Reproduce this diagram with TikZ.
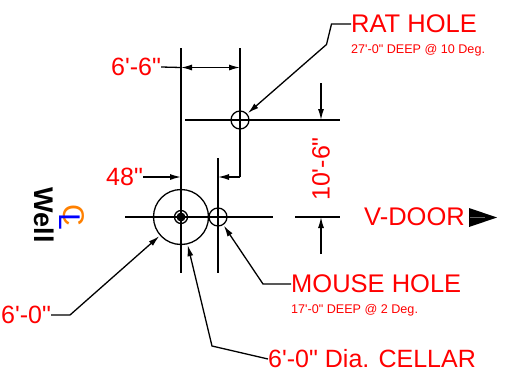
\documentclass[tikz,border=0pt]{standalone}
\usepackage{fontspec}
\newfontfamily\cadfont{Liberation Sans}
\usetikzlibrary{arrows.meta}
\definecolor{clorange}{RGB}{255,128,0}
\tikzstyle{hole} = [draw, circle, inner sep=0pt, line width=1.3pt, outer sep=1.5pt]
\tikzstyle{label} = [red, inner sep=0pt, anchor=west]
\tikzstyle{bigtext} = [label, font=\cadfont\fontsize{25.5}{25.5}\selectfont]
\tikzstyle{midtext} = [label, font=\cadfont\fontsize{25}{25}\selectfont]
\tikzstyle{smalltext} = [label, font=\cadfont\fontsize{12.6}{13}\selectfont]
\tikzstyle{centerline} = [line width=1.3pt]
\tikzstyle{leader} = [line width=1.3pt, -{Latex[length=11pt,width=6pt]}]

\begin{document}
\begin{tikzpicture}[x=1pt, y=-1pt, >={Latex[length=11pt,width=6pt]}]
        \useasboundingbox (0,0) rectangle (507,381);

        % Holes
        \node (cellar) [hole, minimum size=55pt] at (181,217) {};
        \node (well) [hole, minimum size=13pt] at (181,217) {};
        \node (mouse) [hole, minimum size=18pt] at (218,217) {};
        \node (rat) [hole, minimum size=18pt] at (240,120) {};
        \fill (well.center) circle (4.5pt);

        % Centre line ends
        \coordinate (welltop) at (181,48);
        \coordinate (wellbottom) at (181,273);
        \coordinate (rattop) at (240,48);
        \coordinate (ratbottom) at (240,177);
        \coordinate (mousetop) at (218,158);
        \coordinate (mousebottom) at (218,273);
        \coordinate (wellleft) at (125,217);
        \coordinate (wellright) at (273,217);
        \coordinate (ratleft) at (185,120);
        \coordinate (ratright) at (340,120);
        \coordinate (doorleft) at (295,217);
        \coordinate (doorright) at (340,217);

        % Centre lines
        \draw [centerline] (welltop) -- (wellbottom);
        \draw [centerline] (rattop) -- (ratbottom);
        \draw [centerline] (mousetop) -- (mousebottom);
        \draw [centerline] (wellleft) -- (wellright);
        \draw [centerline] (ratleft) -- (ratright);
        \draw [centerline] (doorleft) -- (doorright);

        % Labels
        \node (rattext) [bigtext] at (351,24) {RAT HOLE};
        \node (ratdeep) [smalltext] at (351,50) {27'-0" DEEP @ 10 Deg.};
        \node (mousetext) [bigtext] at (291,284) {MOUSE HOLE};
        \node (mousedeep) [smalltext] at (291,310) {17'-0" DEEP @ 2 Deg.};
        \node (celltext) [midtext] at (268,359) {6'-0" Dia. CELLAR};
        \node (sizetext) [midtext] at (1,315) {6'-0"};
        \node (doortext) [bigtext] at (364,217) {V-DOOR};
        \node (offsettext) [midtext] at (111,67) {6'-6"};
        \node (mousedim) [midtext] at (106,177) {48"};
        \node (depthtext) [red, inner sep=0pt, rotate=90, font=\cadfont\fontsize{25}{25}\selectfont] at (321,169) {10'-6"};
        \node (welltext) [inner sep=0pt, rotate=-90, font=\cadfont\bfseries\fontsize{27}{27}\selectfont] at (44,215) {Well};
        \node (clc) [clorange, inner sep=0pt, rotate=-90, font=\cadfont\fontsize{30}{30}\selectfont] at (73.5,215) {C};
        \node (cll) [blue, inner sep=0pt, rotate=-90, font=\cadfont\fontsize{30}{30}\selectfont] at (69.5,221.5) {L};

        % Door arrow
        \fill (469,208) -- (497,217.5) -- (469,227) -- cycle;
        \draw [white!40!black, line width=0.4pt] (470,217.5) -- (485,217.5);

        % Dimensions
        \coordinate (offsetend) at (181,67.5);
        \coordinate (offsetrat) at (240,67.5);
        \coordinate (smallleft) at (181,177);
        \coordinate (smallright) at (218,177);
        \coordinate (smallrat) at (240,177);
        \coordinate (depthtop) at (321,83);
        \coordinate (depthrat) at (321,120);
        \coordinate (depthbottom) at (321,254);
        \coordinate (depthdoor) at (321,217);

        \draw [line width=1.3pt] (offsettext.east) -- (offsetend);
        \draw [<->, line width=1.3pt] (offsetend) -- (offsetrat);
        \draw [->, line width=1.3pt] (mousedim.east) -- (smallleft);
        \draw [->, line width=1.3pt] (smallrat) -- (smallright);
        \draw [->, line width=1.3pt] (depthtop) -- (depthrat);
        \draw [->, line width=1.3pt] (depthbottom) -- (depthdoor);

        % Leaders
        \coordinate (ratbenda) at (331.5,24);
        \coordinate (ratbendb) at (326.5,44.5);
        \coordinate (mousebend) at (263,284);
        \coordinate (cellbend) at (212,346);
        \coordinate (sizebend) at (70,315);

        \draw [leader] (rattext.west) -- (ratbenda) -- (ratbendb) -- (rat);
        \draw [leader] (mousetext.west) -- (mousebend) -- (mouse);
        \draw [leader] (celltext.west) -- (cellbend) -- (cellar);
        \draw [leader] (sizetext.east) -- (sizebend) -- (cellar);

\end{tikzpicture}
\end{document}
